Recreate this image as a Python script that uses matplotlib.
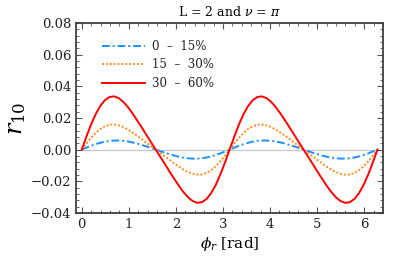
import numpy as np
import matplotlib
matplotlib.use("Agg")
import matplotlib.pyplot as plt
from matplotlib.ticker import MultipleLocator

plt.rcParams['font.family'] = 'DejaVu Serif'
plt.rcParams['mathtext.fontset'] = 'dejavuserif'

# samples at phi = k*pi/32, k = 0..64
phi = np.linspace(0, 2 * np.pi, 65)

r_0_15 = [0, 0.0012, 0.0024, 0.0034, 0.0043, 0.0050, 0.0055, 0.0057, 0.0057,
          0.0055, 0.0051, 0.0045, 0.0038, 0.0029, 0.0020, 0.0010, 0,
          -0.0010, -0.0020, -0.0029, -0.0038, -0.0045, -0.0051, -0.0055, -0.0057,
          -0.0057, -0.0055, -0.0050, -0.0043, -0.0034, -0.0024, -0.0012, 0,
          0.0012, 0.0024, 0.0034, 0.0043, 0.0050, 0.0055, 0.0057, 0.0057,
          0.0055, 0.0051, 0.0045, 0.0038, 0.0029, 0.0020, 0.0010, 0,
          -0.0010, -0.0020, -0.0029, -0.0038, -0.0045, -0.0051, -0.0055, -0.0057,
          -0.0057, -0.0055, -0.0050, -0.0043, -0.0034, -0.0024, -0.0012, 0]

r_15_30 = [0, 0.0038, 0.0074, 0.0105, 0.0130, 0.0147, 0.0157, 0.0158, 0.0153,
           0.0142, 0.0126, 0.0107, 0.0087, 0.0065, 0.0043, 0.0022, 0,
           -0.0022, -0.0043, -0.0065, -0.0087, -0.0107, -0.0126, -0.0142, -0.0153,
           -0.0158, -0.0157, -0.0147, -0.0130, -0.0105, -0.0074, -0.0038, 0,
           0.0038, 0.0074, 0.0105, 0.0130, 0.0147, 0.0157, 0.0158, 0.0153,
           0.0142, 0.0126, 0.0107, 0.0087, 0.0065, 0.0043, 0.0022, 0,
           -0.0022, -0.0043, -0.0065, -0.0087, -0.0107, -0.0126, -0.0142, -0.0153,
           -0.0158, -0.0157, -0.0147, -0.0130, -0.0105, -0.0074, -0.0038, 0]

r_30_60 = [0, 0.0081, 0.0157, 0.0223, 0.0275, 0.0312, 0.0332, 0.0336, 0.0325,
           0.0301, 0.0268, 0.0228, 0.0184, 0.0139, 0.0092, 0.0046, 0,
           -0.0046, -0.0092, -0.0139, -0.0184, -0.0228, -0.0268, -0.0301, -0.0325,
           -0.0336, -0.0332, -0.0312, -0.0275, -0.0223, -0.0157, -0.0081, 0,
           0.0081, 0.0157, 0.0223, 0.0275, 0.0312, 0.0332, 0.0336, 0.0325,
           0.0301, 0.0268, 0.0228, 0.0184, 0.0139, 0.0092, 0.0046, 0,
           -0.0046, -0.0092, -0.0139, -0.0184, -0.0228, -0.0268, -0.0301, -0.0325,
           -0.0336, -0.0332, -0.0312, -0.0275, -0.0223, -0.0157, -0.0081, 0]

labels = ['0  –  15%', '15  –  30%', '30  –  60%']

fig = plt.figure(figsize=(4.07, 2.6), dpi=100)
ax = fig.add_axes([0.187, 0.181, 0.754, 0.731])

ax.axhline(0, color='#c8c8c8', lw=0.9, zorder=1)
ax.plot(phi, r_0_15, color='#1e8fff', lw=1.4, ls=(0, (4, 1.5, 1, 1.5)), label=labels[0])
ax.plot(phi, r_15_30, color='#ff8c1a', lw=1.4, ls=(0, (1, 1)), label=labels[1])
ax.plot(phi, r_30_60, color='#ff0000', lw=1.4, label=labels[2])

ax.set_xlim(-0.12, 6.4)
ax.set_ylim(-0.04, 0.08)
ax.xaxis.set_major_locator(MultipleLocator(1))
ax.xaxis.set_minor_locator(MultipleLocator(0.2))
ax.yaxis.set_major_locator(MultipleLocator(0.02))
ax.yaxis.set_minor_locator(MultipleLocator(0.004))
ax.yaxis.set_major_formatter(plt.FuncFormatter(lambda v, p: f'{v:.2f}'.replace('-', '\u2212')))

for s in ax.spines.values():
    s.set_color('#404040')
    s.set_linewidth(1.3)
ax.tick_params(which='both', direction='in', top=True, right=True, color='#555555',
               labelsize=9.5, labelcolor='#222222')
ax.tick_params(which='major', length=4, width=0.8)
ax.tick_params(which='minor', length=2, width=0.6)

ax.set_title(r'L = 2 and $\nu$ = $\pi$', fontsize=9, pad=5)
ax.set_xlabel(r'$\phi_r$ [rad]', fontsize=11, labelpad=3)
ax.set_ylabel(r'$r_{10}$', fontsize=17, labelpad=2)

leg = ax.legend(loc='upper left', frameon=False, fontsize=8.5, handlelength=3.6,
                handletextpad=0.6, labelspacing=0.45, bbox_to_anchor=(0.05, 0.965))
for t in leg.get_texts():
    t.set_color('#222222')

fig.savefig('out.png', dpi=100)
